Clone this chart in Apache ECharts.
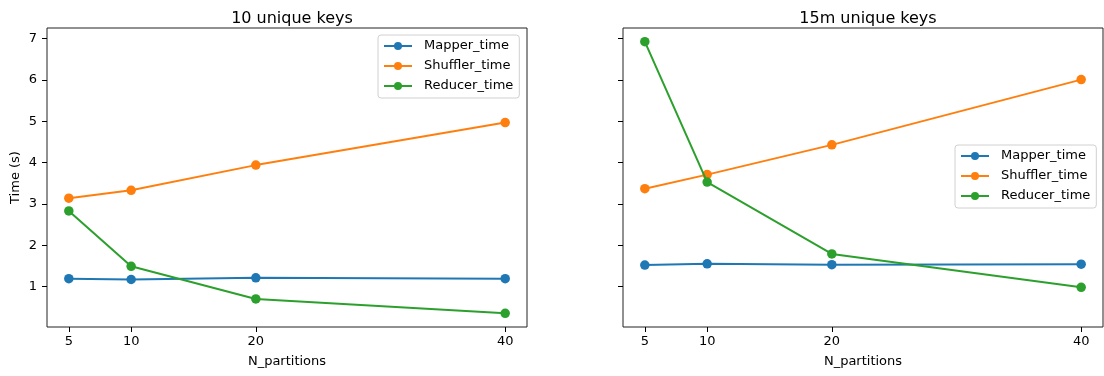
<!DOCTYPE html>
<html>
<head>
<meta charset="utf-8">
<script src="https://cdn.jsdelivr.net/npm/echarts@6.0.0/dist/echarts.min.js"></script>
<style>
html,body{margin:0;padding:0;background:#fff;}
#chart{width:1104px;height:376px;}
</style>
</head>
<body>
<div id="chart"></div>
<script>
// ---- data ----
const partitions = [5, 10, 20, 40];
const yTicks = [1, 2, 3, 4, 5, 6, 7];
const seriesNames = ['Mapper_time', 'Shuffler_time', 'Reducer_time'];
const titles = ['10 unique keys', '15m unique keys'];

// 10 unique keys
const mapper10 = [1.19, 1.17, 1.21, 1.19];
const shuffler10 = [3.14, 3.33, 3.94, 4.97];
const reducer10 = [2.83, 1.49, 0.70, 0.35];

// 15m unique keys
const mapper15m = [1.52, 1.55, 1.53, 1.54];
const shuffler15m = [3.37, 3.71, 4.43, 6.01];
const reducer15m = [6.93, 3.53, 1.79, 0.98];

const colors = ['#1f77b4', '#ff7f0e', '#2ca02c'];
const FONT = 'DejaVu Sans';

const panels = [
  [mapper10, shuffler10, reducer10],
  [mapper15m, shuffler15m, reducer15m]
];

const gridLefts = [47, 623];
const gridW = 480;

function pairs(vals) { return partitions.map((p, i) => [p, vals[i]]); }

const series = [];
panels.forEach((panel, gi) => {
  panel.forEach((vals, si) => {
    series.push({
      name: seriesNames[si],
      type: 'line',
      xAxisIndex: gi,
      yAxisIndex: gi,
      data: pairs(vals),
      symbol: 'circle',
      symbolSize: 9.5,
      showSymbol: true,
      color: colors[si],
      lineStyle: { width: 2, color: colors[si] },
      itemStyle: { color: colors[si] },
      emphasis: { disabled: true },
      z: 2 + si
    });
  });
});

function xAxis(gi) {
  return {
    type: 'value', gridIndex: gi, min: 3.25, max: 41.75,
    name: 'N_partitions', nameLocation: 'middle', nameGap: 28,
    nameTextStyle: { fontFamily: FONT, fontSize: 13, color: '#000' },
    splitLine: { show: false },
    axisLine: { show: false, onZero: false },
    axisTick: { show: true, length: 5, customValues: partitions, lineStyle: { color: '#000', width: 1 } },
    axisLabel: { show: true, margin: 8, customValues: partitions, fontFamily: FONT, fontSize: 13, color: '#000' }
  };
}
function yAxis(gi) {
  return {
    type: 'value', gridIndex: gi, min: 0.02, max: 7.26,
    name: gi === 0 ? 'Time (s)' : '', nameLocation: 'middle', nameGap: 25,
    nameTextStyle: { fontFamily: FONT, fontSize: 13, color: '#000' },
    splitLine: { show: false },
    axisLine: { show: false, onZero: false },
    axisTick: { show: true, length: 5, customValues: yTicks, lineStyle: { color: '#000', width: 1 } },
    axisLabel: { show: gi === 0, margin: 10, customValues: yTicks, fontFamily: FONT, fontSize: 13, color: '#000' }
  };
}

function legend(left, top) {
  return {
    orient: 'vertical', left: left, top: top,
    data: seriesNames,
    itemWidth: 28, itemHeight: 10, itemGap: 6,
    padding: [4, 6, 5, 5],
    backgroundColor: 'rgba(255,255,255,0.8)',
    borderColor: '#d0d0d0', borderWidth: 1, borderRadius: 3,
    selectedMode: false,
    textStyle: { fontFamily: FONT, fontSize: 13, color: '#000', lineHeight: 14, padding: [0, 0, 0, 7] }
  };
}

const option = {
  animation: false,
  backgroundColor: '#fff',
  title: titles.map((t, gi) => ({
    text: t, left: gridLefts[gi] + gridW / 2, top: 6, textAlign: 'center',
    textStyle: { fontFamily: FONT, fontSize: 16, fontWeight: 'normal', color: '#000' }
  })),
  legend: [legend(378, 35), legend(955, 145)],
  grid: gridLefts.map(l => ({
    left: l, top: 28, width: gridW, height: 299, show: true,
    borderColor: '#222', borderWidth: 1, backgroundColor: 'transparent'
  })),
  xAxis: [xAxis(0), xAxis(1)],
  yAxis: [yAxis(0), yAxis(1)],
  series: series
};

const chart = echarts.init(document.getElementById('chart'), null, { renderer: 'canvas' });
chart.setOption(option);
</script>
</body>
</html>
